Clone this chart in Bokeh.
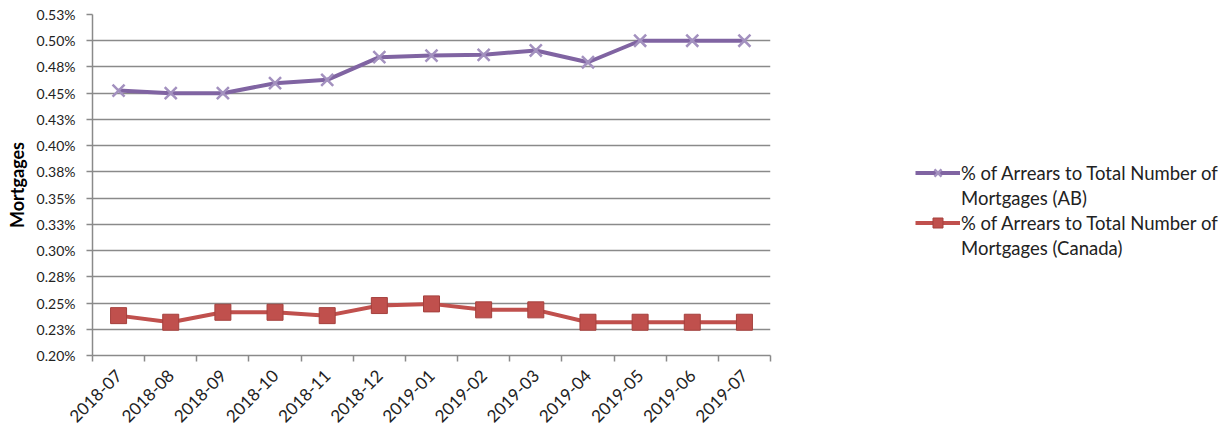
import math
from bokeh.plotting import figure
from bokeh.models import (Range1d, FixedTicker, Legend, LegendItem, ColumnDataSource)
from bokeh.embed import file_html
from bokeh.resources import INLINE

months = ["2018-07", "2018-08", "2018-09", "2018-10", "2018-11", "2018-12",
          "2019-01", "2019-02", "2019-03", "2019-04", "2019-05", "2019-06", "2019-07"]
ab_pct = [0.4525, 0.450, 0.450, 0.4595, 0.4627, 0.4843, 0.4859, 0.4866,
          0.4907, 0.4795, 0.500, 0.500, 0.500]
canada_pct = [0.238, 0.2317, 0.2412, 0.2412, 0.238, 0.2476, 0.2492, 0.2435,
              0.2435, 0.2317, 0.2317, 0.2317, 0.2317]
y_ticks = [0.200, 0.225, 0.250, 0.275, 0.300, 0.325, 0.350, 0.375,
           0.400, 0.425, 0.450, 0.475, 0.500, 0.525]
y_tick_labels = ["0.20%", "0.23%", "0.25%", "0.28%", "0.30%", "0.33%", "0.35%",
                 "0.38%", "0.40%", "0.43%", "0.45%", "0.48%", "0.50%", "0.53%"]
label_ab = ["% of Arrears to Total Number of", "Mortgages (AB)"]
label_ca = ["% of Arrears to Total Number of", "Mortgages (Canada)"]
y_title = "Mortgages"

FONT = "Lato"
GRID = "#8a8a8a"

x = list(range(len(months)))
src = ColumnDataSource(dict(x=x, ab=ab_pct, ca=canada_pct))

p = figure(frame_width=678, frame_height=341, output_backend="svg", toolbar_location=None,
           x_range=Range1d(-0.5, len(months) - 0.5),
           y_range=Range1d(y_ticks[0], y_ticks[-1]))
p.min_border_left = 92
p.min_border_right = 150
p.min_border_top = 14
p.min_border_bottom = 20
p.outline_line_color = None
p.background_fill_color = "white"
p.border_fill_color = "white"

# axes
p.xaxis.ticker = FixedTicker(ticks=x, minor_ticks=[i - 0.5 for i in range(len(months) + 1)])
p.xaxis.major_label_overrides = {i: m for i, m in enumerate(months)}
p.xaxis.major_label_orientation = math.pi / 4
p.xaxis.major_tick_out = 0
p.xaxis.major_tick_in = 0
p.xaxis.minor_tick_out = 6
p.xaxis.minor_tick_in = 0
p.xaxis.minor_tick_line_color = GRID
p.xaxis.minor_tick_line_width = 1.5
p.xaxis.axis_line_color = GRID
p.xaxis.axis_line_width = 1.5
p.xaxis.major_label_text_font = FONT
p.xaxis.major_label_text_font_size = "17px"
p.xaxis.major_label_text_color = "#222222"
p.xaxis.major_label_standoff = 11

p.yaxis.ticker = FixedTicker(ticks=y_ticks, minor_ticks=[])
p.yaxis.major_label_overrides = {t: l for t, l in zip(y_ticks, y_tick_labels)}
p.yaxis.major_tick_out = 6
p.yaxis.major_tick_in = 0
p.yaxis.major_tick_line_color = GRID
p.yaxis.major_tick_line_width = 1.5
p.yaxis.axis_line_color = GRID
p.yaxis.axis_line_width = 1.5
p.yaxis.major_label_text_font = FONT
p.yaxis.major_label_text_font_size = "14px"
p.yaxis.major_label_text_color = "#222222"
p.yaxis.major_label_standoff = 11
p.yaxis.axis_label = y_title
p.yaxis.axis_label_text_font = FONT
p.yaxis.axis_label_text_font_style = "bold"
p.yaxis.axis_label_text_font_size = "18px"
p.yaxis.axis_label_text_color = "#000000"
p.yaxis.axis_label_standoff = 6

p.xgrid.grid_line_color = None
p.ygrid.ticker = FixedTicker(ticks=y_ticks)
p.ygrid.grid_line_color = GRID
p.ygrid.grid_line_width = 1.5

# series
ab_line = p.line("x", "ab", source=src, line_color="#8064A2", line_width=4)
ab_mark = p.scatter("x", "ab", source=src, marker="x", size=17,
                    line_color="#A391BF", line_width=2.5)
ca_line = p.line("x", "ca", source=src, line_color="#C0504D", line_width=4)
ca_mark = p.scatter("x", "ca", source=src, marker="square", size=16,
                    fill_color="#C0504D", line_color="#A5403D", line_width=1)
# empty, invisible renderer used for the second text line of each legend entry
blank = p.line(x=[], y=[], line_alpha=0)

legend = Legend(items=[LegendItem(label=label_ab[0], renderers=[ab_line, ab_mark]),
                       LegendItem(label=label_ab[1], renderers=[blank]),
                       LegendItem(label=label_ca[0], renderers=[ca_line, ca_mark]),
                       LegendItem(label=label_ca[1], renderers=[blank])],
                location=(145, 95))
legend.border_line_color = None
legend.background_fill_alpha = 0
legend.padding = 0
legend.margin = 0
legend.spacing = 0
legend.glyph_width = 45
legend.glyph_height = 25
legend.label_height = 25
legend.label_standoff = 1
legend.label_text_font = FONT
legend.label_text_font_size = "18.5px"
legend.label_text_color = "#222222"
p.add_layout(legend, "right")

open("out.html", "w").write(file_html(p, INLINE))
